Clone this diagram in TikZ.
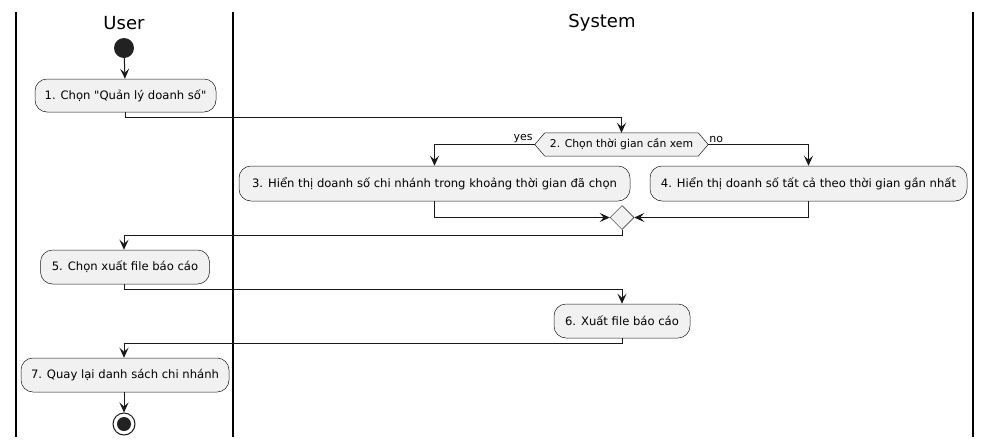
\documentclass[tikz,border=0pt]{standalone}
\usepackage{fontspec}
\setmainfont{DejaVu Sans}[Ligatures=TeXOff]
\usetikzlibrary{arrows.meta,shapes.geometric}
\definecolor{boxfill}{HTML}{F1F1F1}
\definecolor{linec}{HTML}{181818}
\definecolor{dotc}{HTML}{222222}
\begin{document}
\begin{tikzpicture}[x=1pt,y=-1pt,
  act/.style={draw=linec, line width=0.5pt, fill=boxfill, rounded corners=12pt, minimum height=34pt, inner sep=0pt, font=\fontsize{11.6}{14}\selectfont},
  flow/.style={draw=linec, line width=1pt, -{Stealth[length=10pt,width=9pt,inset=4pt]}},
  lane/.style={draw=black, line width=1.5pt},
  title/.style={font=\fontsize{18}{20}\selectfont},
  lbl/.style={font=\fontsize{11}{12}\selectfont, inner sep=1pt}
]
\useasboundingbox (0,0) rectangle (990,445);
% lanes
\coordinate (l1t) at (16,12); \coordinate (l1b) at (16,437);
\coordinate (l2t) at (233,12); \coordinate (l2b) at (233,437);
\coordinate (l3t) at (973,12); \coordinate (l3b) at (973,437);
\draw[lane] (l1t) -- (l1b);
\draw[lane] (l2t) -- (l2b);
\draw[lane] (l3t) -- (l3b);
\node[title] (tuser) at (124,23) {User};
\node[title] (tsys) at (602,23) {System};
% nodes
\node[circle, fill=dotc, minimum size=20pt, inner sep=0pt] (start) at (124,48) {};
\node[act, minimum width=181pt, minimum height=33pt] (n1) at (125.5,95.5) {1. Chọn "Quản lý doanh số"};
\node[inner sep=0pt, minimum width=153pt, minimum height=23pt] (hex) at (621.5,144.5) {};
\coordinate (hexw) at ([xshift=-10pt]hex.west);
\coordinate (hexe) at ([xshift=10pt]hex.east);
\draw[linec, line width=0.5pt, fill=boxfill] (hexw) -- (hex.north west) -- (hex.north east) -- (hexe) -- (hex.south east) -- (hex.south west) -- cycle;
\node[font=\fontsize{10.8}{12}\selectfont, inner sep=0pt] (hextext) at (hex) {2. Chọn thời gian cần xem};
\node[act, minimum width=391pt, minimum height=35pt] (n3) at (434.5,183.5) {3. Hiển thị doanh số chi nhánh trong khoảng thời gian đã chọn};
\node[act, minimum width=317pt, minimum height=35pt] (n4) at (808.5,183.5) {4. Hiển thị doanh số tất cả theo thời gian gần nhất};
\node[diamond, draw=linec, line width=0.5pt, fill=boxfill, minimum width=24pt, minimum height=24pt, inner sep=0pt] (merge) at (622,217.5) {};
\node[act, minimum width=169pt] (n5) at (125,267) {5. Chọn xuất file báo cáo};
\node[act, minimum width=136pt] (n6) at (622,321) {6. Xuất file báo cáo};
\node[act, minimum width=208pt] (n7) at (125,375) {7. Quay lại danh sách chi nhánh};
\node[circle, draw=linec, line width=1pt, fill=white, minimum size=22pt, inner sep=0pt] (stop) at (124,424) {};
\node[circle, fill=dotc, minimum size=14pt, inner sep=0pt] (stopin) at (stop) {};
% labels
\node[lbl, anchor=south east] (yes) at ([xshift=-1pt,yshift=1pt]hexw) {yes};
\node[lbl, anchor=south west] (no) at ([xshift=0pt,yshift=1pt]hexe) {no};
% connectors
\draw[flow] (start) -- (n1);
\draw[flow] (n1.south) -- ++(0,5) -| (hex.north);
\draw[flow] (hexw) -| (n3.north);
\draw[flow] (hexe) -| (n4.north);
\draw[flow] (n3.south) |- (merge.west);
\draw[flow] (n4.south) |- (merge.east);
\draw[flow] (merge.south) -- ++(0,6) -| (n5.north -| start);
\draw[flow] (n5.south -| start) -- ++(0,5) -| (n6.north);
\draw[flow] (n6.south) -- ++(0,5) -| (n7.north -| start);
\draw[flow] (n7.south -| start) -- (stop);
\end{tikzpicture}
\end{document}
